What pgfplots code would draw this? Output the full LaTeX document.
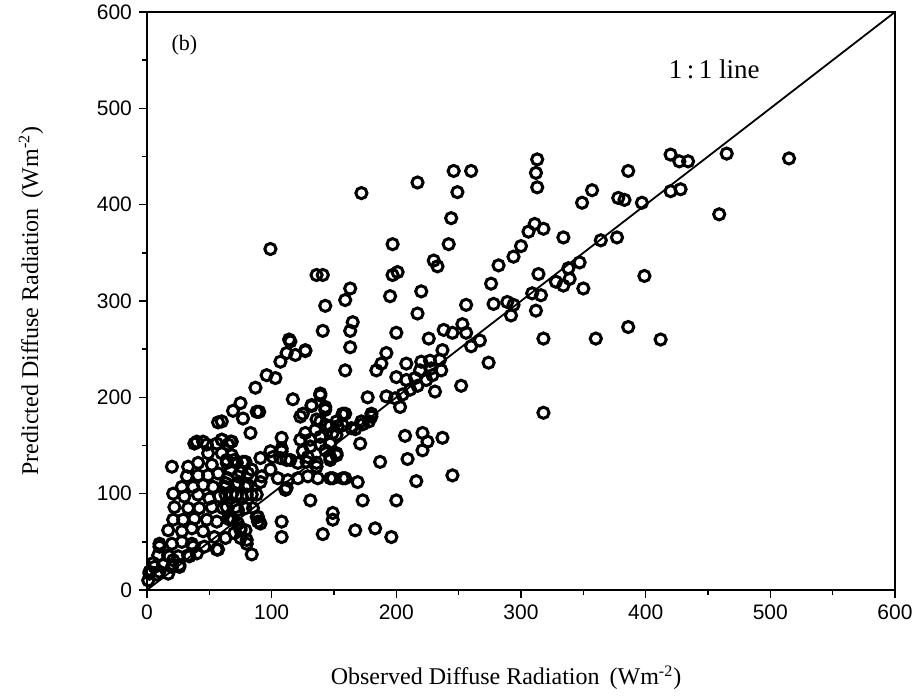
\documentclass[border=0pt]{standalone}
\usepackage{fontspec}
\setmainfont{Liberation Serif}
\newfontfamily\tickfont{Liberation Sans}
\usepackage{pgfplots}
\pgfplotsset{compat=1.18}
\begin{document}
\begin{tikzpicture}
\useasboundingbox (-73.5pt,-53.5pt) rectangle (388.5pt,295pt);
\begin{axis}[
  scale only axis, width=374pt, height=289pt,
  xmin=0, xmax=600, ymin=0, ymax=600,
  xtick={0,100,...,600}, ytick={0,100,...,600},
  minor x tick num=1, minor y tick num=1,
  tick pos=left, tick align=outside,
  major tick length=4pt, minor tick length=2.5pt,
  every tick/.style={black, line width=0.8pt},
  axis line style={line width=1pt},
  /pgf/number format/assume math mode=true,
  tick label style={font=\tickfont\fontsize{10.5}{12}\selectfont},
  xlabel={Observed Diffuse Radiation\, (Wm\textsuperscript{-2})},
  ylabel={Predicted Diffuse Radiation\, (Wm\textsuperscript{-2})},
  label style={font=\fontsize{12}{14}\selectfont},
  xlabel style={at={(axis description cs:0.48,-0.152)}, anchor=center},
  ylabel style={at={(axis description cs:-0.155,0.5)}, anchor=center, rotate=0},
]
\addplot[black, line width=0.9pt] coordinates {(0,0) (600,600)};
\addplot[only marks, mark=o, mark size=2.8pt, mark options={line width=1.5pt, black}] coordinates {
(172,412)(217,423)(99,354)(136,327)(141,327)(197,359)(230,342)(233,336)(201,330)(197,327)(163,313)(159,301)(143,295)(195,305)(220,310)(217,287)(141,269)(165,278)(163,269)(200,267)(114,260)(226,261)
(246,435)(260,435)(249,413)(244,386)(242,359)
(313,447)(312,433)(313,418)(357,415)(349,402)(378,407)(383,405)(386,435)(397,402)(420,452)(427,445)(434,445)(420,414)(428,416)(459,390)(465,453)(515,448)
(311,380)(306,372)(318,375)(334,366)(364,363)(377,366)(294,346)(300,357)(282,337)(276,318)(314,328)(309,308)(316,306)(312,290)(328,320)(334,316)(339,323)(338,334)(347,340)(350,313)(399,326)(386,273)(318,261)(360,261)(412,260)(318,184)
(256,296)(278,297)(289,299)(294,296)(292,285)
(238,270)(245,267)(253,276)(256,267)(260,253)(267,259)(237,249)(235,239)(274,236)
(163,252)(192,246)(188,235)(184,228)(159,228)(208,235)(220,237)(227,238)(200,221)(208,218)(215,220)(219,228)(228,230)(236,228)(229,223)(224,218)(231,206)(217,212)(211,208)(205,203)(252,212)(177,200)(192,201)(199,199)(203,190)(180,180)(173,172)(167,167)(157,182)(152,161)(157,171)(171,152)(152,140)(207,160)(221,163)(225,154)(237,158)(221,145)(209,136)(187,133)(245,119)(216,113)(149,116)(159,116)(169,112)(173,93)(200,93)(149,80)(149,73)(167,62)(183,64)(196,55)
(115,258)(112,246)(119,244)(127,248)(107,237)(96,223)(103,220)(87,210)(117,198)(123,180)(132,191)(139,202)(143,187)(69,186)(75,194)(77,178)(88,185)(57,174)(83,163)(40,154)(45,154)(60,156)(68,154)(108,158)(108,144)(131,156)(125,144)(139,159)(143,145)(147,138)(152,142)(20,128)(101,138)(112,135)(121,132)(128,133)(136,128)(147,135)(111,104)(131,93)(141,58)(108,71)(108,55)(84,37)(57,42)(80,52)(89,76)(89,71)(75,62)(69,73)(10,45)(18,35)(6,24)(2,17)(26,24)(21,31)(34,35)(37,45)
(38,152)(48,151)(56,152)(65,151)(49,142)(60,142)(68,140)(33,128)(41,132)(52,130)(64,132)(72,132)(79,133)(32,118)(41,119)(49,119)(57,121)(65,116)(73,118)(81,121)(28,107)(37,107)(45,109)(53,107)(63,107)(71,109)(79,107)(21,100)(30,97)(41,99)(50,95)(58,97)(68,99)(76,97)(84,99)(22,86)(33,85)(42,85)(52,86)(61,85)(71,86)(79,85)(21,73)(29,73)(38,74)(48,73)(56,71)(65,74)(73,69)(79,62)(75,54)(80,48)(17,62)(28,61)(36,64)(45,61)(54,55)(63,54)(10,48)(20,48)(28,50)(36,48)(46,45)(56,42)(9,36)(17,36)(25,35)(33,36)(40,38)(5,28)(13,26)(20,24)(26,26)(2,19)(10,19)(17,17)(1,10)(8,16)
(90,185)(132,192)(139,175)(147,170)(153,170)(159,183)(123,156)(131,149)(139,151)(147,152)(152,140)(60,175)(67,154)(60,156)(108,147)(99,144)(91,137)(107,137)(115,135)(129,138)(136,132)(64,135)(70,135)(77,133)(84,125)(75,123)(67,125)(92,118)(99,125)(105,116)(113,114)(121,116)(129,118)(137,116)(147,116)(157,116)(112,106)(63,111)(73,111)(81,109)(91,112)(63,99)(72,99)(80,99)(88,99)(64,86)(73,83)(85,85)(88,76)(91,69)(67,73)(75,64)(70,59)
(139,204)(143,190)(157,183)(125,183)(136,177)(152,175)(144,171)(135,166)(127,163)(164,168)(172,175)(180,183)(178,175)(149,163)(127,249)
};
\node[font=\fontsize{11}{13}\selectfont] at (axis cs:30,566) {(b)};
\node[font=\fontsize{13.5}{15}\selectfont] at (axis cs:455,540) {1\,:\,1 line};
\end{axis}
\end{tikzpicture}
\end{document}
